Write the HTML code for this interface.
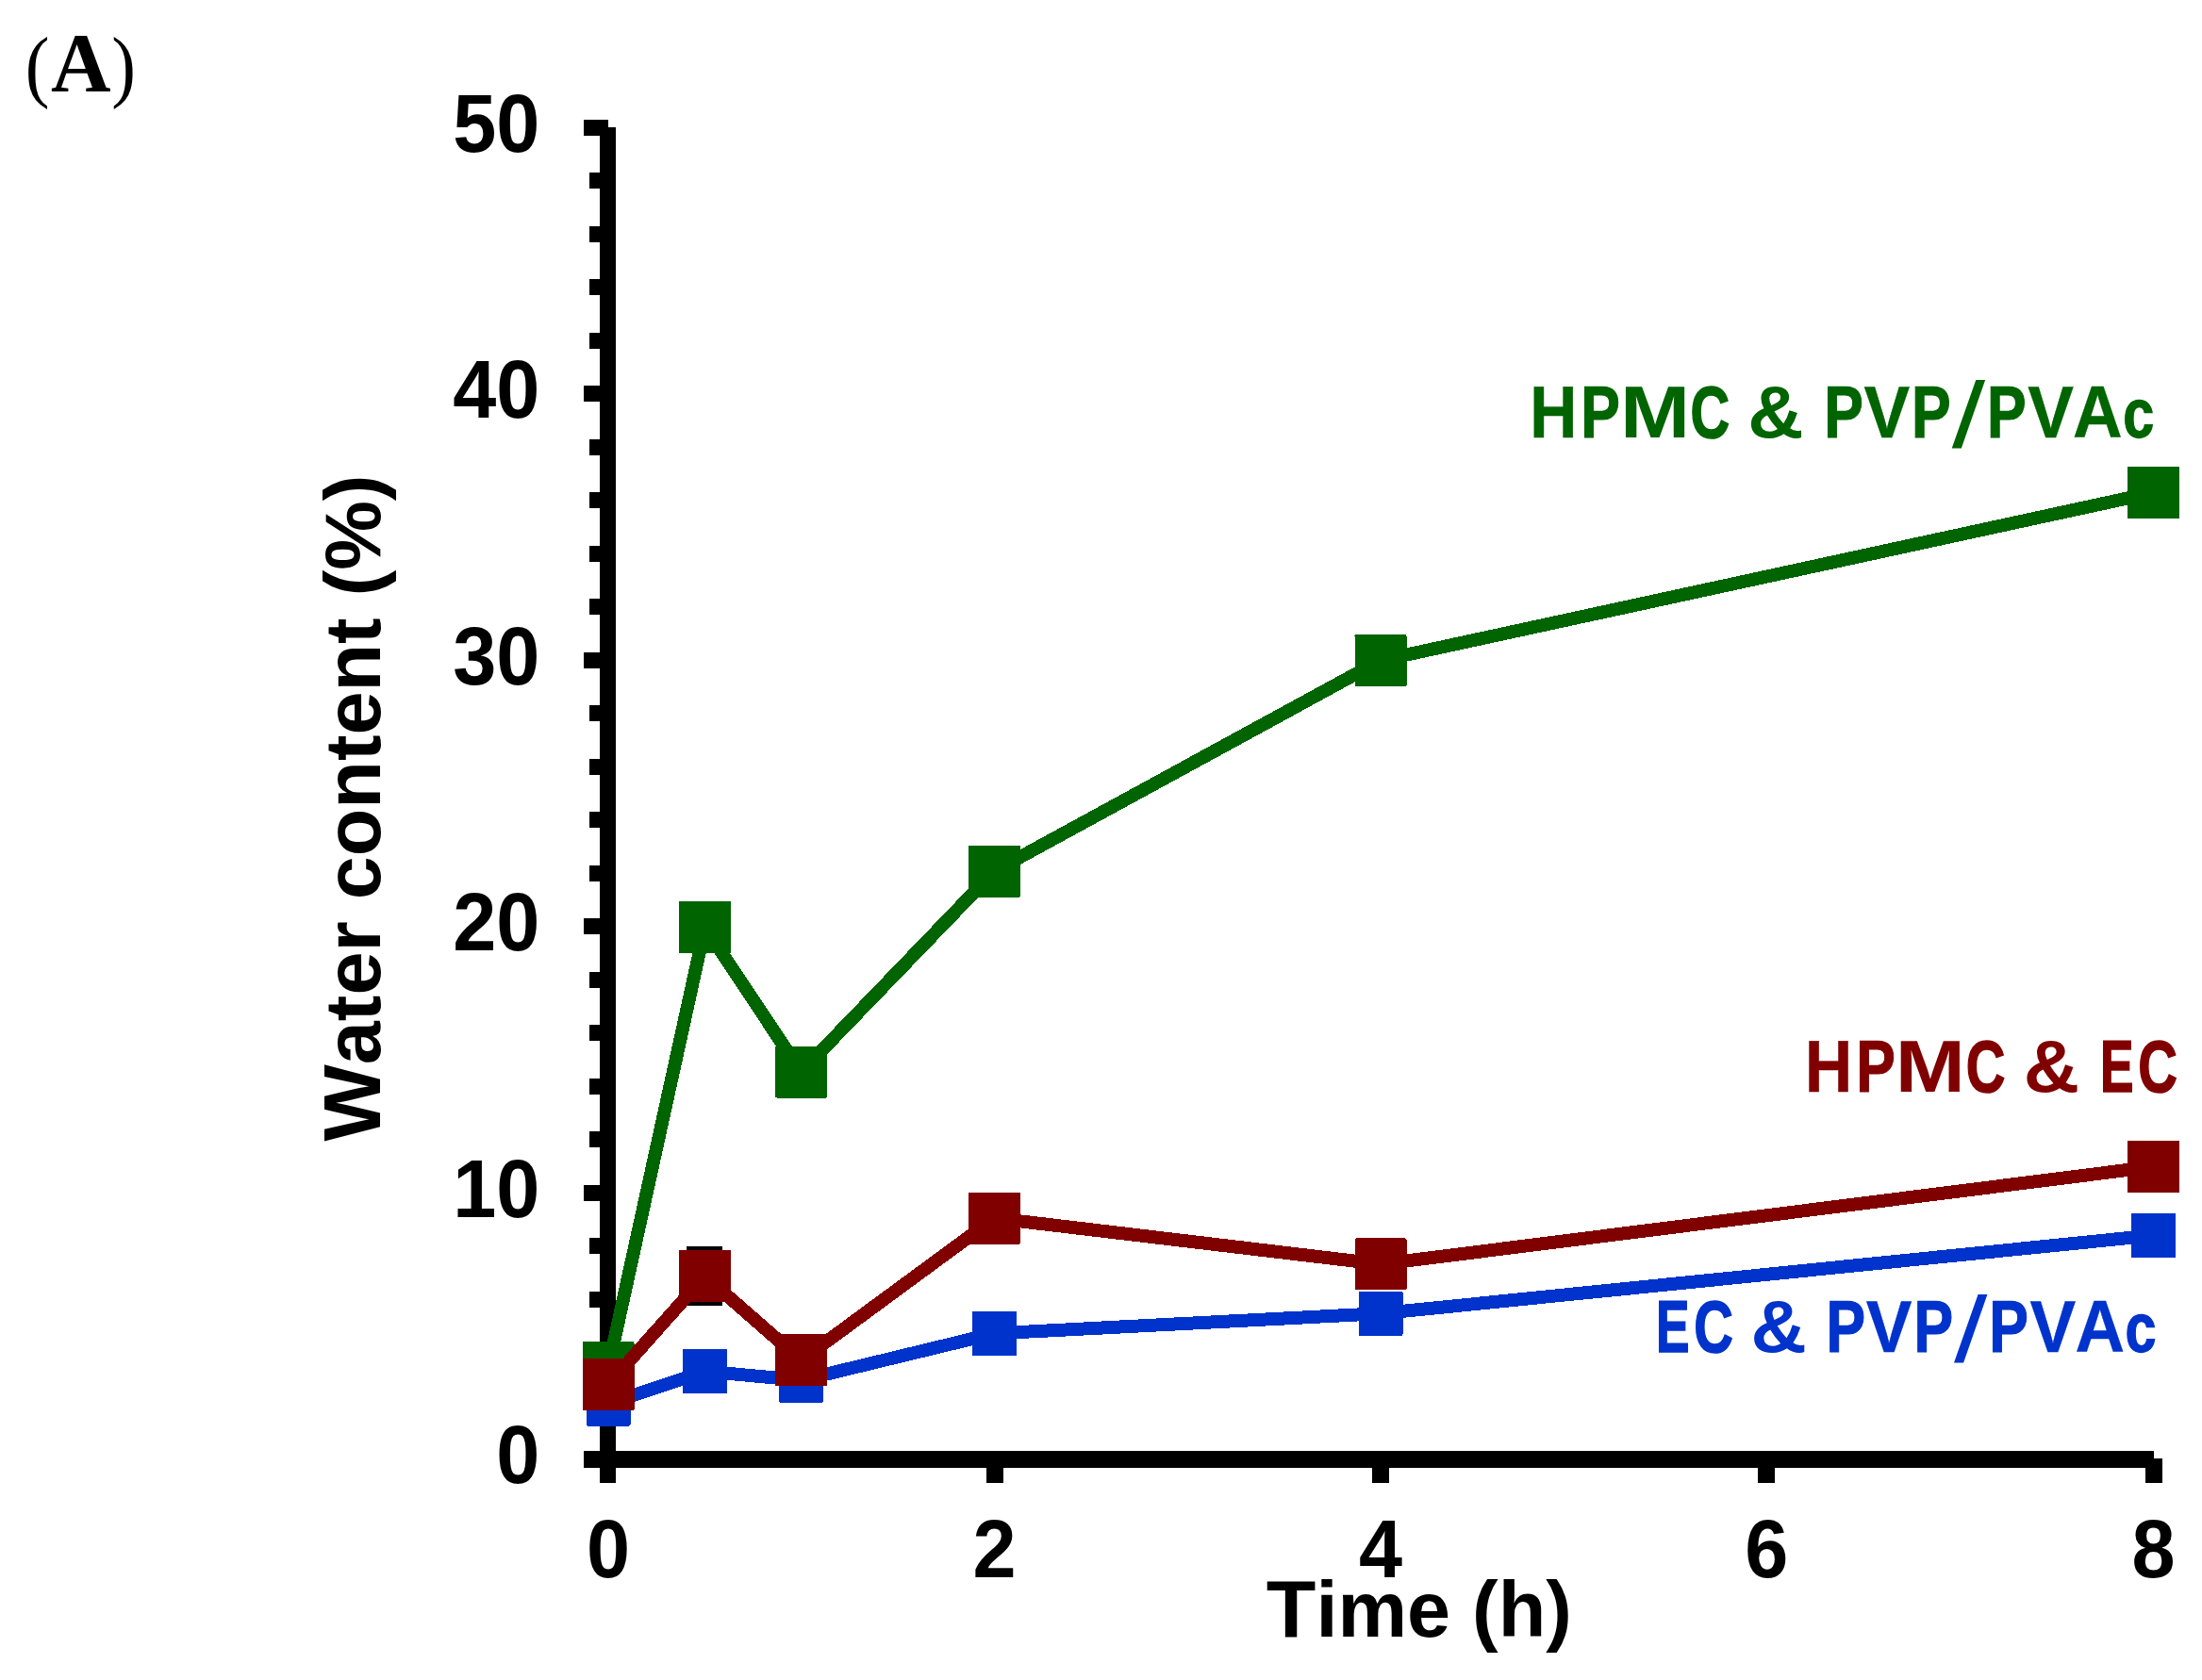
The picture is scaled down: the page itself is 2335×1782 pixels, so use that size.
<!DOCTYPE html>
<html lang="en">
<head>
<meta charset="utf-8">
<title>Water content vs time (A)</title>
<style>
html,body{margin:0;padding:0;background:#fff;}
body{width:2335px;height:1782px;overflow:hidden;}
svg{display:block;}
.ar{font-family:"Liberation Sans",sans-serif;font-weight:700;fill:#000;}
.tm{font-family:"Liberation Serif",serif;fill:#000;}
.cb{font-family:"Liberation Sans",sans-serif;font-weight:700;}
</style>
</head>
<body>
<svg width="2335" height="1782" viewBox="0 0 2335 1782">
<rect x="0" y="0" width="2335" height="1782" fill="#ffffff"/>

<g fill="#000" shape-rendering="crispEdges">
<rect x="636" y="135" width="17" height="1438"/>
<rect x="619" y="1539" width="1665" height="18"/>
<rect x="625" y="1482.5" width="12" height="17"/>
<rect x="625" y="1426.0" width="12" height="17"/>
<rect x="625" y="1369.5" width="12" height="17"/>
<rect x="625" y="1313.0" width="12" height="17"/>
<rect x="619" y="1256.5" width="26" height="17"/>
<rect x="625" y="1200.0" width="12" height="17"/>
<rect x="625" y="1143.5" width="12" height="17"/>
<rect x="625" y="1087.0" width="12" height="17"/>
<rect x="625" y="1030.5" width="12" height="17"/>
<rect x="619" y="974.0" width="26" height="17"/>
<rect x="625" y="917.5" width="12" height="17"/>
<rect x="625" y="861.0" width="12" height="17"/>
<rect x="625" y="804.5" width="12" height="17"/>
<rect x="625" y="748.0" width="12" height="17"/>
<rect x="619" y="691.5" width="26" height="17"/>
<rect x="625" y="635.0" width="12" height="17"/>
<rect x="625" y="578.5" width="12" height="17"/>
<rect x="625" y="522.0" width="12" height="17"/>
<rect x="625" y="465.5" width="12" height="17"/>
<rect x="619" y="409.0" width="26" height="17"/>
<rect x="625" y="352.5" width="12" height="17"/>
<rect x="625" y="296.0" width="12" height="17"/>
<rect x="625" y="239.5" width="12" height="17"/>
<rect x="625" y="183.0" width="12" height="17"/>
<rect x="619" y="126.5" width="26" height="17"/>
<rect x="1045.5" y="1547" width="18" height="26"/>
<rect x="1455.0" y="1547" width="18" height="26"/>
<rect x="1864.3" y="1547" width="18" height="26"/>
<rect x="2274.5" y="1547" width="18" height="26"/>
</g>
<g class="ar" font-size="82.8" text-anchor="end">
<text transform="translate(572.3,1573.3) scale(1,1.05)">0</text>
<text transform="translate(572.3,1290.8) scale(1,1.05)">10</text>
<text transform="translate(572.3,1008.3) scale(1,1.05)">20</text>
<text transform="translate(572.3,725.8) scale(1,1.05)">30</text>
<text transform="translate(572.3,443.3) scale(1,1.05)">40</text>
<text transform="translate(572.3,160.8) scale(1,1.05)">50</text>
</g>
<g class="ar" font-size="82.8" text-anchor="middle">
<text transform="translate(645.0,1672.8) scale(1,1.05)">0</text>
<text transform="translate(1054.5,1672.8) scale(1,1.05)">2</text>
<text transform="translate(1464.0,1672.8) scale(1,1.05)">4</text>
<text transform="translate(1873.3,1672.8) scale(1,1.05)">6</text>
<text transform="translate(2283.5,1672.8) scale(1,1.05)">8</text>
<text x="1504.8" y="1736"><tspan font-size="86.1">T</tspan>ime (h)</text>
<text transform="translate(403,857) rotate(-90)"><tspan font-size="86.1">W</tspan>ater content (%)</text>
</g>
<text class="tm" font-size="85.3"><tspan x="26.8" y="97.9" textLength="25.72" lengthAdjust="spacingAndGlyphs">(</tspan><tspan x="54.0" y="96.3" font-size="88" font-weight="700">A</tspan><tspan x="118.3" y="97.9" textLength="25.72" lengthAdjust="spacingAndGlyphs">)</tspan></text>
<g fill="#000" shape-rendering="crispEdges"><rect x="728" y="1322" width="38" height="8"/><rect x="728" y="1377" width="38" height="8"/><rect x="743" y="1322" width="8" height="62"/></g>
<g fill="#0033cc" stroke="none" shape-rendering="crispEdges"><path d="M645.0 1489.0 L747.5 1454.5 L849.5 1464.1 L1054.5 1414.4 L1464.0 1393.2 L2283.5 1310.4" fill="none" stroke="#0033cc" stroke-width="14" stroke-linejoin="round"/><rect x="621.5" y="1465.5" width="47" height="47" rx="1.5"/><rect x="724.0" y="1431.0" width="47" height="47" rx="1.5"/><rect x="826.0" y="1440.6" width="47" height="47" rx="1.5"/><rect x="1031.0" y="1390.9" width="47" height="47" rx="1.5"/><rect x="1440.5" y="1369.7" width="47" height="47" rx="1.5"/><rect x="2260.0" y="1286.9" width="47" height="47" rx="1.5"/></g>
<g fill="#006400" stroke="none" shape-rendering="crispEdges"><path d="M645.0 1450.8 L747.5 983.6 L849.5 1137.0 L1054.5 924.0 L1464.0 700.5 L2283.5 522.5" fill="none" stroke="#006400" stroke-width="14" stroke-linejoin="round"/><rect x="617.5" y="1423.3" width="55" height="55" rx="1.5"/><rect x="720.0" y="956.1" width="55" height="55" rx="1.5"/><rect x="822.0" y="1109.5" width="55" height="55" rx="1.5"/><rect x="1027.0" y="896.5" width="55" height="55" rx="1.5"/><rect x="1436.5" y="673.0" width="55" height="55" rx="1.5"/><rect x="2256.0" y="495.0" width="55" height="55" rx="1.5"/></g>
<g fill="#800000" stroke="none" shape-rendering="crispEdges"><path d="M645.0 1468.6 L747.5 1353.6 L849.5 1442.9 L1054.5 1292.1 L1464.0 1340.9 L2283.5 1237.5" fill="none" stroke="#800000" stroke-width="14" stroke-linejoin="round"/><rect x="617.5" y="1441.1" width="55" height="55" rx="1.5"/><rect x="720.0" y="1326.1" width="55" height="55" rx="1.5"/><rect x="822.0" y="1415.4" width="55" height="55" rx="1.5"/><rect x="1027.0" y="1264.6" width="55" height="55" rx="1.5"/><rect x="1436.5" y="1313.4" width="55" height="55" rx="1.5"/><rect x="2256.0" y="1210.0" width="55" height="55" rx="1.5"/></g>
<text class="cb" font-size="77" fill="#006400"><tspan x="1622.3" y="463.6" textLength="50.19" lengthAdjust="spacingAndGlyphs" stroke="#006400" stroke-width="0.6">H</tspan><tspan x="1676.2" y="463.6" textLength="41.64" lengthAdjust="spacingAndGlyphs" stroke="#006400" stroke-width="1.2">P</tspan><tspan x="1718.0" y="463.6" textLength="74.10" lengthAdjust="spacingAndGlyphs">M</tspan><tspan x="1792.6" y="463.6" textLength="41.64" lengthAdjust="spacingAndGlyphs" stroke="#006400" stroke-width="1.6">C</tspan> <tspan x="1853.3" y="463.6" textLength="59.38" lengthAdjust="spacingAndGlyphs">&amp;</tspan> <tspan x="1934.2" y="463.6" textLength="41.64" lengthAdjust="spacingAndGlyphs" stroke="#006400" stroke-width="1.2">P</tspan><tspan x="1976.4" y="463.6" textLength="48.72" lengthAdjust="spacingAndGlyphs" stroke="#006400" stroke-width="0.4">V</tspan><tspan x="2027.1" y="463.6" textLength="41.64" lengthAdjust="spacingAndGlyphs" stroke="#006400" stroke-width="1.2">P</tspan><tspan x="2069.8" y="474.0" textLength="35.40" lengthAdjust="spacingAndGlyphs" font-size="98.6" font-weight="400">/</tspan><tspan x="2106.9" y="463.6" textLength="41.64" lengthAdjust="spacingAndGlyphs" stroke="#006400" stroke-width="1.2">P</tspan><tspan x="2150.3" y="463.6" textLength="48.72" lengthAdjust="spacingAndGlyphs" stroke="#006400" stroke-width="0.4">V</tspan><tspan x="2198.1" y="463.6" textLength="52.55" lengthAdjust="spacingAndGlyphs" stroke="#006400" stroke-width="0.4">A</tspan><tspan x="2251.2" y="463.6" textLength="32.91" lengthAdjust="spacingAndGlyphs" font-size="74" stroke="#006400" stroke-width="1.3">c</tspan></text>
<text class="cb" font-size="77" fill="#800000"><tspan x="1914.1" y="1157.8" textLength="50.19" lengthAdjust="spacingAndGlyphs" stroke="#800000" stroke-width="0.6">H</tspan><tspan x="1968.2" y="1157.8" textLength="41.64" lengthAdjust="spacingAndGlyphs" stroke="#800000" stroke-width="1.2">P</tspan><tspan x="2009.8" y="1157.8" textLength="74.10" lengthAdjust="spacingAndGlyphs">M</tspan><tspan x="2084.7" y="1157.8" textLength="41.64" lengthAdjust="spacingAndGlyphs" stroke="#800000" stroke-width="1.6">C</tspan> <tspan x="2145.7" y="1157.8" textLength="59.38" lengthAdjust="spacingAndGlyphs">&amp;</tspan> <tspan x="2227.0" y="1157.8" textLength="35.54" lengthAdjust="spacingAndGlyphs" stroke="#800000" stroke-width="1.6">E</tspan><tspan x="2267.2" y="1157.8" textLength="41.64" lengthAdjust="spacingAndGlyphs" stroke="#800000" stroke-width="1.6">C</tspan></text>
<text class="cb" font-size="77" fill="#0033cc"><tspan x="1756.1" y="1433.5" textLength="35.54" lengthAdjust="spacingAndGlyphs" stroke="#0033cc" stroke-width="1.6">E</tspan><tspan x="1796.3" y="1433.5" textLength="41.64" lengthAdjust="spacingAndGlyphs" stroke="#0033cc" stroke-width="1.6">C</tspan> <tspan x="1856.4" y="1433.5" textLength="59.38" lengthAdjust="spacingAndGlyphs">&amp;</tspan> <tspan x="1936.5" y="1433.5" textLength="41.64" lengthAdjust="spacingAndGlyphs" stroke="#0033cc" stroke-width="1.2">P</tspan><tspan x="1978.7" y="1433.5" textLength="48.72" lengthAdjust="spacingAndGlyphs" stroke="#0033cc" stroke-width="0.4">V</tspan><tspan x="2029.4" y="1433.5" textLength="41.64" lengthAdjust="spacingAndGlyphs" stroke="#0033cc" stroke-width="1.2">P</tspan><tspan x="2072.1" y="1443.9" textLength="35.40" lengthAdjust="spacingAndGlyphs" font-size="98.6" font-weight="400">/</tspan><tspan x="2109.2" y="1433.5" textLength="41.64" lengthAdjust="spacingAndGlyphs" stroke="#0033cc" stroke-width="1.2">P</tspan><tspan x="2152.6" y="1433.5" textLength="48.72" lengthAdjust="spacingAndGlyphs" stroke="#0033cc" stroke-width="0.4">V</tspan><tspan x="2200.4" y="1433.5" textLength="52.55" lengthAdjust="spacingAndGlyphs" stroke="#0033cc" stroke-width="0.4">A</tspan><tspan x="2253.5" y="1433.5" textLength="32.91" lengthAdjust="spacingAndGlyphs" font-size="74" stroke="#0033cc" stroke-width="1.3">c</tspan></text>
</svg>
</body>
</html>
